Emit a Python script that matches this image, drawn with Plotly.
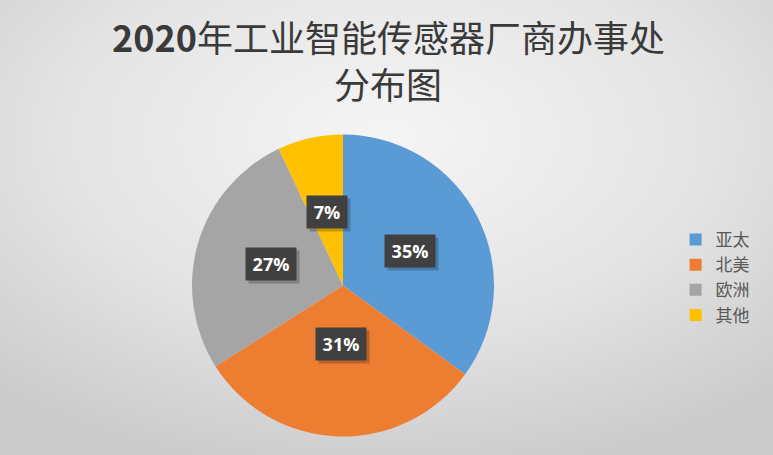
"""2020 industrial smart sensor vendor offices - pie chart."""

import base64
import math

import plotly.graph_objects as go

title_lines = ["<b>2020</b>年工业智能传感器厂商办事处", "分布图"]
regions = ["亚太", "北美", "欧洲", "其他"]
shares = [35, 31, 27, 7]
colors = ["#5B9BD5", "#ED7D31", "#A5A5A5", "#FFC000"]

W, H = 773, 455
pie_dom_x = [0.2484, 0.6391]
pie_dom_y = [0.0396, 0.7055]

# radial grey backdrop like the Office chart area
svg = f"""<svg xmlns='http://www.w3.org/2000/svg' width='{W}' height='{H}'>
<defs><radialGradient id='g' cx='0.5' cy='0.3' r='0.75'>
<stop offset='0' stop-color='#f5f5f5'/><stop offset='0.55' stop-color='#e4e4e4'/>
<stop offset='1' stop-color='#cbcbcb'/></radialGradient></defs>
<rect width='100%' height='100%' fill='url(#g)'/></svg>"""
bg_uri = "data:image/svg+xml;base64," + base64.b64encode(svg.encode()).decode()

fig = go.Figure()
fig.add_trace(
    go.Pie(
        labels=regions,
        values=shares,
        marker=dict(colors=colors, line=dict(width=0)),
        sort=False,
        direction="clockwise",
        rotation=0,
        textinfo="none",
        hoverinfo="label+percent",
        domain=dict(x=pie_dom_x, y=pie_dom_y),
    )
)

# data labels in dark boxes at half radius
cx = (pie_dom_x[0] + pie_dom_x[1]) / 2 * W
cy = (pie_dom_y[0] + pie_dom_y[1]) / 2 * H
r = min((pie_dom_x[1] - pie_dom_x[0]) * W, (pie_dom_y[1] - pie_dom_y[0]) * H) / 2
total = sum(shares)
cum = 0
for v in shares:
    mid = (cum + v / 2) / total * 2 * math.pi
    cum += v
    px = cx + 0.5 * r * math.sin(mid)
    py = cy + 0.5 * r * math.cos(mid)
    label = f"<b>{round(v / total * 100)}%</b>"
    bw = 40 if v < 10 else 50
    # soft drop shadow
    fig.add_annotation(
        x=(px + 3) / W, y=(py - 3) / H, xref="paper", yref="paper",
        text=" ", showarrow=False, width=bw, height=32, borderpad=0,
        bgcolor="rgba(0,0,0,0.22)",
    )
    fig.add_annotation(
        x=px / W, y=py / H, xref="paper", yref="paper",
        text=label, showarrow=False, width=bw, height=32, borderpad=0,
        font=dict(family="Open Sans, Noto Sans, sans-serif", size=18, color="white"),
        bgcolor="#404040",
    )

title_y = [36, 83]
for line, ty in zip(title_lines, title_y):
    fig.add_annotation(
        x=0.502, y=1 - ty / H, xref="paper", yref="paper",
        text=line, showarrow=False, xanchor="center", yanchor="middle",
        height=44, borderpad=0,
        font=dict(family="Noto Sans CJK SC, sans-serif", size=36, color="#3a3a3a"),
    )

fig.update_layout(
    width=W,
    height=H,
    margin=dict(l=0, r=0, t=0, b=0),
    paper_bgcolor="#e6e6e6",
    images=[dict(source=bg_uri, xref="paper", yref="paper", x=0, y=1,
                 sizex=1, sizey=1, sizing="stretch", layer="below")],
    legend=dict(
        x=0.874,
        y=0.39,
        xanchor="left",
        yanchor="middle",
        font=dict(family="Noto Sans CJK SC, sans-serif", size=17, color="#595959"),
        itemwidth=30,
        bgcolor="rgba(0,0,0,0)",
    ),
)

fig.write_html(
    "out.html",
    config={"displayModeBar": False},
    post_script="document.body.style.margin='0';",
)
